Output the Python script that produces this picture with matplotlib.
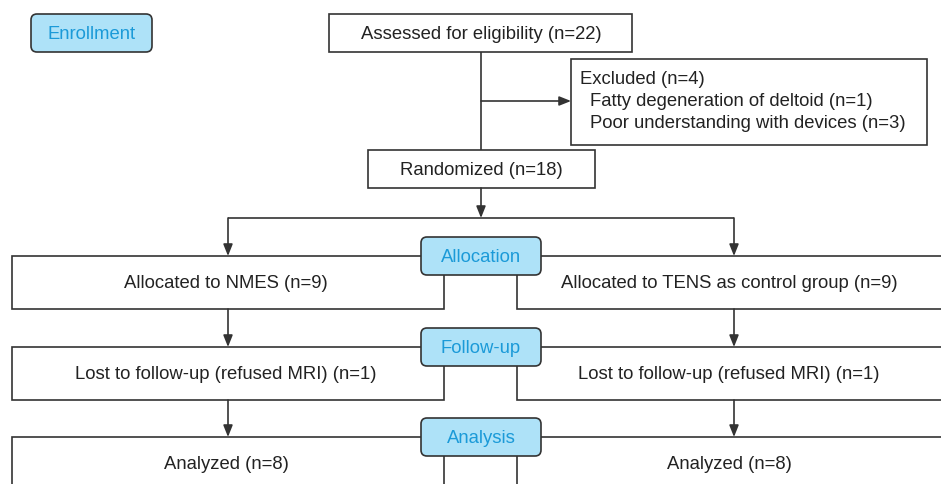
import matplotlib.pyplot as plt
from matplotlib.patches import Rectangle, FancyBboxPatch

plt.rcParams['font.family'] = ['Liberation Sans', 'DejaVu Sans']

# stage labels on the left / centre
stage_labels = ["Enrollment", "Allocation", "Follow-up", "Analysis"]

# box texts
assessed_text = "Assessed for eligibility (n=22)"
excluded_head = "Excluded (n=4)"
excluded_reasons = ["Fatty degeneration of deltoid (n=1)",
                    "Poor understanding with devices (n=3)"]
randomized_text = "Randomized (n=18)"
nmes_arm = ["Allocated to NMES (n=9)",
            "Lost to follow-up (refused MRI) (n=1)",
            "Analyzed (n=8)"]
tens_arm = ["Allocated to TENS as control group (n=9)",
            "Lost to follow-up (refused MRI) (n=1)",
            "Analyzed (n=8)"]

LINE = "#333333"
TXT = "#222222"
FILL = "#aee2f8"
LABEL_TXT = "#1b9ad8"
FS = 13.3
DY = 1.5  # small downward nudge so text sits like the original

fig = plt.figure(figsize=(9.41, 4.84), dpi=100)
ax = fig.add_axes([0, 0, 1, 1])
ax.set_xlim(0, 941)
ax.set_ylim(484, 0)
ax.axis("off")


def box(x0, y0, x1, y1):
    ax.add_patch(Rectangle((x0, y0), x1 - x0, y1 - y0, fill=True, fc="white",
                           ec=LINE, lw=1.2, zorder=2))


def txt(x, y, s, ha="center"):
    ax.text(x, y + DY, s, ha=ha, va="center", fontsize=FS, color=TXT, zorder=3)


def label(cx, cy, w, h, text):
    ax.add_patch(FancyBboxPatch((cx - w / 2, cy - h / 2), w, h,
                                boxstyle="round,pad=0,rounding_size=6",
                                fc=FILL, ec=LINE, lw=1.2, zorder=4))
    ax.text(cx, cy + DY, text, ha="center", va="center", color=LABEL_TXT,
            fontsize=FS, zorder=5)


def arrow(x0, y0, x1, y1):
    ax.annotate("", xy=(x1, y1), xytext=(x0, y0),
                arrowprops=dict(arrowstyle="-|>,head_length=0.7,head_width=0.28",
                                color=LINE, lw=1.2, shrinkA=0, shrinkB=0),
                zorder=3)


def line(xs, ys):
    ax.plot(xs, ys, color=LINE, lw=1.2, zorder=1, solid_capstyle="butt")


# enrollment
label(91.5, 33, 121, 38, stage_labels[0])
box(329, 14, 632, 52)
txt(481, 33, assessed_text)
line([481, 481], [52, 150])
arrow(481, 101, 571, 101)
box(571, 59, 927, 145)
txt(580, 78, excluded_head, ha="left")
for k, reason in enumerate(excluded_reasons):
    txt(590, 100 + 22 * k, reason, ha="left")
box(368, 150, 595, 188)
txt(481, 169, randomized_text)
arrow(481, 188, 481, 218)

# split
line([228, 734], [218, 218])
arrow(228, 218, 228, 256)
arrow(734, 218, 734, 256)

# arm rows
row_tops = [256, 347, 437]
row_bots = [309, 400, 500]
text_y = [282, 373, 463]
left_x = (12, 444)
right_x = (517, 960)
for i in range(3):
    box(left_x[0], row_tops[i], left_x[1], row_bots[i])
    box(right_x[0], row_tops[i], right_x[1], row_bots[i])
    txt(226, text_y[i], nmes_arm[i])
    txt(729, text_y[i], tens_arm[i])
    label(481, row_tops[i], 120, 38, stage_labels[i + 1])
    if i < 2:
        arrow(228, row_bots[i], 228, row_tops[i + 1])
        arrow(734, row_bots[i], 734, row_tops[i + 1])

fig.savefig("out.png", dpi=100)
